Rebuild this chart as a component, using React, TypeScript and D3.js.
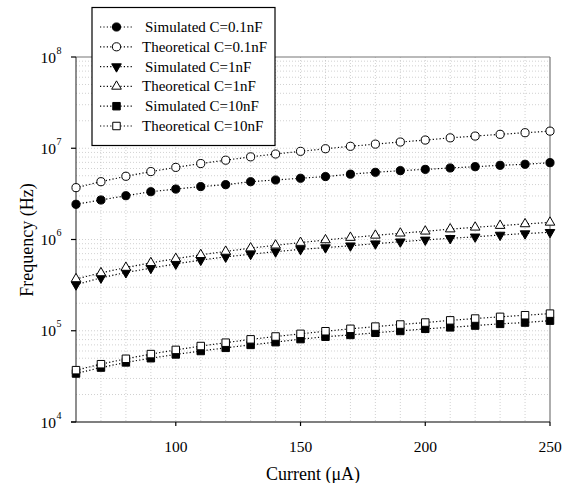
import React from 'react';
import * as d3 from 'd3';

// Values
const currents = [60, 70, 80, 90, 100, 110, 120, 130, 140, 150, 160, 170, 180, 190, 200, 210, 220, 230, 240, 250];

const simulated01 = [2.43e6, 2.71e6, 3.02e6, 3.34e6, 3.57e6, 3.8e6, 3.99e6, 4.3e6, 4.49e6, 4.69e6, 4.89e6, 5.2e6, 5.45e6, 5.68e6, 5.87e6, 6.08e6, 6.28e6, 6.5e6, 6.67e6, 6.95e6];
const theoretical01 = [3.7e6, 4.3e6, 4.93e6, 5.55e6, 6.17e6, 6.8e6, 7.4e6, 8.05e6, 8.65e6, 9.25e6, 9.88e6, 1.05e7, 1.11e7, 1.17e7, 1.23e7, 1.3e7, 1.36e7, 1.42e7, 1.48e7, 1.54e7];
const simulated1 = [3.2e5, 3.8e5, 4.35e5, 4.85e5, 5.4e5, 5.95e5, 6.45e5, 6.9e5, 7.35e5, 7.8e5, 8.15e5, 8.55e5, 9.0e5, 9.45e5, 9.9e5, 1.03e6, 1.07e6, 1.12e6, 1.16e6, 1.2e6];
const theoretical1 = [3.7e5, 4.3e5, 4.93e5, 5.55e5, 6.17e5, 6.8e5, 7.4e5, 8.05e5, 8.65e5, 9.25e5, 9.88e5, 1.05e6, 1.11e6, 1.17e6, 1.23e6, 1.3e6, 1.36e6, 1.42e6, 1.48e6, 1.54e6];
const simulated10 = [3.4e4, 3.95e4, 4.5e4, 5.0e4, 5.5e4, 6.0e4, 6.5e4, 7.0e4, 7.5e4, 8.1e4, 8.6e4, 9.0e4, 9.5e4, 9.95e4, 1.05e5, 1.09e5, 1.14e5, 1.19e5, 1.23e5, 1.29e5];
const theoretical10 = [3.7e4, 4.3e4, 4.93e4, 5.55e4, 6.17e4, 6.8e4, 7.4e4, 8.05e4, 8.65e4, 9.25e4, 9.88e4, 1.05e5, 1.11e5, 1.17e5, 1.23e5, 1.3e5, 1.36e5, 1.42e5, 1.48e5, 1.54e5];

const xTicks = [100, 150, 200, 250];
const yTicks = [1e4, 1e5, 1e6, 1e7, 1e8];
const yExponents = [4, 5, 6, 7, 8];

type Shape = 'circle' | 'triangleDown' | 'triangleUp' | 'square';

interface Series {
    label: string;
    values: number[];
    shape: Shape;
    filled: boolean;
}

const series: Series[] = [
    { label: 'Simulated C=0.1nF', values: simulated01, shape: 'circle', filled: true },
    { label: 'Theoretical C=0.1nF', values: theoretical01, shape: 'circle', filled: false },
    { label: 'Simulated C=1nF', values: simulated1, shape: 'triangleDown', filled: true },
    { label: 'Theoretical C=1nF', values: theoretical1, shape: 'triangleUp', filled: false },
    { label: 'Simulated C=10nF', values: simulated10, shape: 'square', filled: true },
    { label: 'Theoretical C=10nF', values: theoretical10, shape: 'square', filled: false },
];

const width = 563;
const height = 483;
const plot = { left: 76, right: 550, top: 57, bottom: 422 };

const x = d3.scaleLinear().domain([60, 250]).range([plot.left, plot.right]);
const y = d3.scaleLog().domain([1e4, 1e8]).range([plot.bottom, plot.top]);

const font = '"Liberation Serif", "Times New Roman", serif';
const dots = '1.2,2.2';

const symbolPath = (shape: Shape): string => {
    const gen = d3.symbol();
    if (shape === 'circle') return gen.type(d3.symbolCircle).size(52)() || '';
    if (shape === 'square') return gen.type(d3.symbolSquare).size(56)() || '';
    return gen.type(d3.symbolTriangle).size(40)() || '';
};

const Marker: React.FC<{ shape: Shape; filled: boolean; cx: number; cy: number }> = ({ shape, filled, cx, cy }) => (
    <path
        d={symbolPath(shape)}
        transform={`translate(${cx},${cy})${shape === 'triangleDown' ? ' rotate(180)' : ''}`}
        fill={filled ? '#000' : '#fff'}
        stroke="#000"
        strokeWidth={1}
    />
);

const App: React.FC = () => {
    const line = d3.line<number>()
        .x((_, i) => x(currents[i]))
        .y(d => y(d));

    // minor grid for the log axis: 2..9 times every decade, plus the inner decades
    const hGrid: number[] = [];
    for (let e = 4; e < 8; e++) {
        for (let m = 1; m < 10; m++) {
            const v = m * Math.pow(10, e);
            if (v > 1e4) hGrid.push(v);
        }
    }
    const vGrid = d3.range(70, 250, 10);

    const legendRows = series.map((s, i) => ({ ...s, yPos: 27 + i * 19.8 }));

    return (
        <div style={{ position: 'absolute', left: 0, top: 0 }}>
            <svg width={width} height={height} style={{ display: 'block', background: '#fff' }}>
                {/* grid */}
                <g stroke="#bdbdbd" strokeWidth={0.7} strokeDasharray="1,2">
                    {hGrid.map(v => (
                        <line key={`h${v}`} x1={plot.left} x2={plot.right} y1={y(v)} y2={y(v)} />
                    ))}
                    {vGrid.map(v => (
                        <line key={`v${v}`} x1={x(v)} x2={x(v)} y1={plot.top} y2={plot.bottom} />
                    ))}
                </g>

                {/* frame */}
                <line x1={plot.left} x2={plot.right} y1={plot.top} y2={plot.top} stroke="#777" strokeWidth={1.2} />
                <line x1={plot.right} x2={plot.right} y1={plot.top} y2={plot.bottom} stroke="#777" strokeWidth={1.2} />
                <line x1={plot.left} x2={plot.left} y1={plot.top} y2={plot.bottom} stroke="#444" strokeWidth={1.2} />
                <line x1={plot.left - 5} x2={plot.right} y1={plot.bottom} y2={plot.bottom} stroke="#000" strokeWidth={1.2} />

                {/* y axis */}
                {yTicks.map((t, i) => (
                    <g key={`yt${t}`}>
                        <line x1={plot.left - 5} x2={plot.left} y1={y(t)} y2={y(t)} stroke="#000" strokeWidth={1.2} />
                        <text x={plot.left - 20} y={y(t) + 5.5} textAnchor="end" fontFamily={font} fontSize={15.5}>
                            10
                        </text>
                        <text x={plot.left - 19.5} y={y(t) - 3.5} textAnchor="start" fontFamily={font} fontSize={10}>
                            {yExponents[i]}
                        </text>
                    </g>
                ))}

                {/* x axis */}
                {xTicks.map(t => (
                    <g key={`xt${t}`}>
                        <line x1={x(t)} x2={x(t)} y1={plot.bottom} y2={plot.bottom + 4} stroke="#000" strokeWidth={1.2} />
                        <text x={x(t)} y={plot.bottom + 30} textAnchor="middle" fontFamily={font} fontSize={15.5}>
                            {t}
                        </text>
                    </g>
                ))}

                <text x={313} y={480} textAnchor="middle" fontFamily={font} fontSize={18}>
                    Current (μA)
                </text>
                <text transform="translate(33,240) rotate(-90)" textAnchor="middle" fontFamily={font} fontSize={18}>
                    Frequency (Hz)
                </text>

                {/* series */}
                {series.map(s => (
                    <g key={s.label}>
                        <path d={line(s.values) || ''} fill="none" stroke="#000" strokeWidth={1.2} strokeDasharray={dots} />
                        {s.values.map((v, i) => (
                            <Marker key={i} shape={s.shape} filled={s.filled} cx={x(currents[i])} cy={y(v)} />
                        ))}
                    </g>
                ))}

                {/* legend */}
                <rect x={92} y={7.5} width={183} height={138} fill="#fff" stroke="#000" strokeWidth={1.2} />
                {legendRows.map(r => (
                    <g key={`lg${r.label}`}>
                        <line x1={100} x2={133} y1={r.yPos} y2={r.yPos} stroke="#000" strokeWidth={1.2} strokeDasharray={dots} />
                        <Marker shape={r.shape} filled={r.filled} cx={116.5} cy={r.yPos} />
                        <text
                            x={r.filled ? 145 : 142}
                            y={r.yPos + 5}
                            fontFamily={font}
                            fontSize={15}
                        >
                            {r.label}
                        </text>
                    </g>
                ))}
            </svg>
        </div>
    );
};

export default App;
